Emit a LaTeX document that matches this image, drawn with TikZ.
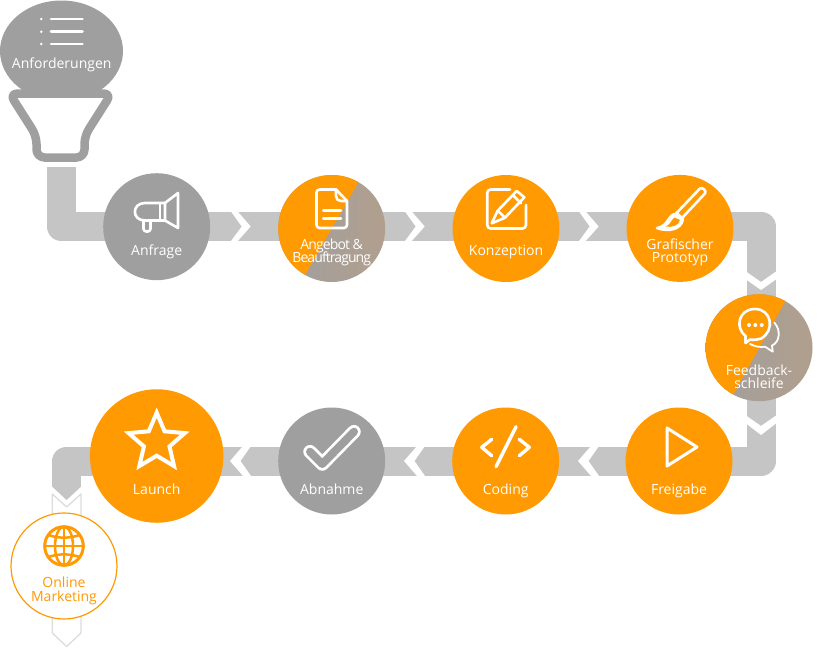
\documentclass[tikz,border=0pt]{standalone}
\usepackage{fontspec}
\setmainfont{Open Sans}
\definecolor{org}{HTML}{FF9A02}
\definecolor{gry}{HTML}{A09F9F}
\definecolor{bar}{HTML}{C6C5C6}
\definecolor{lgt}{HTML}{DDDCDD}
\definecolor{tan}{HTML}{B19F8D}
\tikzset{
  disc/.style={circle,inner sep=0pt,minimum size=107pt,fill=#1},
  lbl/.style={anchor=base,inner sep=0pt,text=white,font=\fontsize{14}{14}\selectfont},
  tight/.style={lbl,font=\fontsize{14}{14}\addfontfeature{LetterSpace=-6.5}\selectfont},
  icon/.style={draw=white,line width=2.6pt,line cap=round,line join=round},
  gap/.style={fill=white,draw=none},
  twotone/.style={left color=gry,middle color=gry,right color=tan}
}
\begin{document}
\begin{tikzpicture}[x=1pt,y=-1pt]
\useasboundingbox (0,0) rectangle (821,648);
% way points of the band
\coordinate (w0) at (61,167);
\coordinate (w1) at (61,226.3);
\coordinate (w2) at (761,226.3);
\coordinate (w3) at (761,461);
\coordinate (w4) at (66.6,461);
\coordinate (w5) at (66.6,487);
\draw[bar,line width=29pt,line join=round] (w0) -- (w1) -- (w2) -- (w3) -- (w4) -- (w5);
\fill[bar] (52.1,486.5) -- (66.6,500) -- (81.1,486.5) -- cycle;
% chevrons
\foreach \d in {0,174,348}{
  \fill[gap] (231+\d,241) -- (241.7+\d,226.5) -- (231+\d,211.5) -- (237.7+\d,211.5) -- (250.7+\d,226.5) -- (237.7+\d,241) -- cycle;
}
\foreach \d in {-174,0,174}{
  \fill[gap] (417+\d,446) -- (404+\d,461) -- (417+\d,476) -- (425+\d,476) -- (414.5+\d,461) -- (425+\d,446) -- cycle;
}
\fill[gap] (746,271.5) -- (761,282) -- (776,271.5) -- (776,279.5) -- (761,290) -- (746,279.5) -- cycle;
\fill[gap] (746,415.5) -- (761,426) -- (776,415.5) -- (776,423.5) -- (761,435) -- (746,423.5) -- cycle;
% outlined exit arrow
\draw[lgt,line width=1.3pt,line join=round,fill=white] (52.3,494) -- (66.6,507) -- (81,494) -- (81,633) -- (66.6,646.5) -- (52.3,633) -- cycle;

% funnel
\fill[gry] (61.5,51) ellipse [x radius=61.5,y radius=50.5];
\draw[gry,fill=white,line width=8.5pt,rounded corners=8pt,line join=round] (9.5,93.5) -- (36.5,136) -- (36.5,157.5) -- (84.5,157.5) -- (84.5,136) -- (111.5,93.5) -- cycle;
\foreach \yy in {19,31.7,44}{
  \fill[white] (41.3,\yy) circle (1.4);
  \draw[white,line width=2.6pt,line cap=round] (51,\yy) -- (82.5,\yy);
}
\node[lbl] (tReq) at (61.7,68) {Anforderungen};

% discs
\shade[twotone] (331.7,228.5) circle (53.5);
\node[circle,inner sep=0pt,minimum size=107pt] (angebot) at (331.7,228.5) {};
\begin{scope}
  \clip (331.7,228.5) circle (53.5);
  \fill[org] (358,183) -- (305,275) -- (250,275) -- (250,150) -- (358,150) -- cycle;
\end{scope}
\shade[twotone] (759,347.7) circle (53.5);
\node[circle,inner sep=0pt,minimum size=107pt] (feedback) at (759,347.7) {};
\begin{scope}
  \clip (759,347.7) circle (53.5);
  \fill[org] (785,301.7) -- (733,395) -- (680,395) -- (680,280) -- (785,280) -- cycle;
\end{scope}
\node[disc=gry] (anfrage) at (156.7,226.7) {};
\node[disc=org] (konz) at (506,228.5) {};
\node[disc=org] (graf) at (680,228.4) {};
\node[disc=org] (frei) at (679,461) {};
\node[disc=org] (coding) at (505.7,461) {};
\node[disc=gry] (abnahme) at (331.7,461) {};
\node[circle,inner sep=0pt,minimum size=133.5pt,fill=org] (launch) at (156.7,456) {};
\node[circle,inner sep=0pt,minimum size=106pt,draw=org,line width=1.2pt,fill=white] (online) at (64,566) {};

% megaphone
\draw[icon] (165,203) -- (145,203) .. controls (131.5,203) and (131.5,220.5) .. (145,220.5) -- (165,220.5) -- cycle;
\draw[icon] (160,203) -- (160,220.5);
\draw[icon] (165,203) -- (178,193) -- (178,228) -- (165,220.5);
\draw[icon] (143.5,220.5) -- (143.5,229) .. controls (143.5,232.5) and (150.5,232.5) .. (150.5,229) -- (150.5,220.5);
\node[lbl] (tAnfrage) at (156.7,255) {Anfrage};

% document
\draw[icon,rounded corners=3pt] (336,189.5) -- (316.5,189.5) -- (316.5,228) -- (347,228) -- (347,201);
\draw[icon] (336,189.5) -- (347,201);
\draw[icon] (336,189.5) -- (336,196) .. controls (336,199) and (338,201) .. (341,201) -- (347,201);
\draw[icon] (323.3,210.7) -- (341,210.7);
\draw[icon] (323.3,218.3) -- (341,218.3);
\node[tight] (tAng1) at (331.7,249) {Angebot \&};
\node[tight] (tAng2) at (331.7,262.3) {Beauftragung};

% sheet and pencil
\draw[icon,rounded corners=3.5pt] (510,189.5) -- (487.2,189.5) -- (487.2,228.5) -- (526,228.5) -- (526,205);
\draw[icon] (491.7,223.3) -- (497.7,210.7) -- (516.7,191) -- (524.3,197.3) -- (505,217.7) -- cycle;
\draw[icon] (512.7,195) -- (521,203.3);
\draw[icon] (497.7,210.7) -- (505,217.7);
\node[lbl] (tKonz) at (506,255) {Konzeption};

% brush
\draw[icon] (700,188.5) .. controls (702,186.5) and (707,191) .. (705,193.5) -- (682,218) -- (676.5,213) -- cycle;
\draw[icon,fill=white] (676,214) .. controls (668,214) and (669,226) .. (657,228) .. controls (668,232) and (681,230) .. (683,219) -- cycle;
\fill[org] (674.5,217.5) .. controls (671,220) and (671,224) .. (666,226.5) .. controls (672,228) and (679,225) .. (680,220) -- cycle;
\node[lbl] (tGr1) at (680,249) {Grafischer};
\node[lbl] (tGr2) at (680,262.3) {Prototyp};

% chat
\draw[icon,line width=1.8pt] (774.3,322.5) .. controls (781,330) and (780,342) .. (772,345.5) -- (772.7,351.7) -- (765,346.7) .. controls (760,347.5) and (755,346.5) .. (750,344);
\draw[icon] (745.5,343) -- (745.5,336) .. controls (735,328) and (738,309) .. (755,309) .. controls (772,309) and (775,331) .. (761,338.5) .. controls (757,340) and (752,340) .. (750,339.5) -- cycle;
\foreach \xx in {749,755.3,761.7}{\fill[white] (\xx,325) circle (2);}
\node[lbl] (tFb1) at (759,375) {Feedback-};
\node[lbl] (tFb2) at (759,388.3) {schleife};

% play
\draw[icon,line width=3pt] (667,428) -- (667,466) -- (697,447) -- cycle;
\node[lbl] (tFrei) at (679,494) {Freigabe};

% code
\draw[icon,line width=3.4pt] (491.7,439.3) -- (481.7,447.3) -- (491.7,455.7);
\draw[icon,line width=3.4pt] (519.3,439.3) -- (529.3,447.3) -- (519.3,455.7);
\draw[icon,line width=3.4pt] (516,426.7) -- (496,466.7);
\node[lbl] (tCode) at (505.7,494) {Coding};

% check
\draw[white,line width=13.5pt,line cap=round,line join=round] (310,451.7) -- (322.3,464) -- (354,431.7);
\draw[gry,line width=8pt,line cap=round,line join=round] (310,451.7) -- (322.3,464) -- (354,431.7);
\node[lbl] (tAbn) at (331.7,494) {Abnahme};

% star
\draw[white,line width=4pt,line join=miter] (156.7,412.7) -- (164.6,431.3) -- (184.76,433.1) -- (169.5,446.4) -- (174.04,466.07) -- (156.7,455.7) -- (139.36,466.07) -- (143.9,446.4) -- (128.64,433.1) -- (148.8,431.3) -- cycle;
\node[lbl] (tLaunch) at (156.7,494) {Launch};

% globe
\begin{scope}[org,line width=2.5pt]
  \draw[line width=3pt] (64,546) circle (19.3);
  \draw (64,546) ellipse [x radius=9,y radius=19.3];
  \draw (64,526.7) -- (64,565.3);
  \draw (44.7,546) -- (83.3,546);
  \draw (48.5,535) .. controls (58,538.5) and (70,538.5) .. (79.5,535);
  \draw (48.5,557) .. controls (58,553.5) and (70,553.5) .. (79.5,557);
\end{scope}
\node[lbl,text=org] (tOn1) at (64,587) {Online};
\node[lbl,text=org] (tOn2) at (64,601) {Marketing};
\end{tikzpicture}
\end{document}
